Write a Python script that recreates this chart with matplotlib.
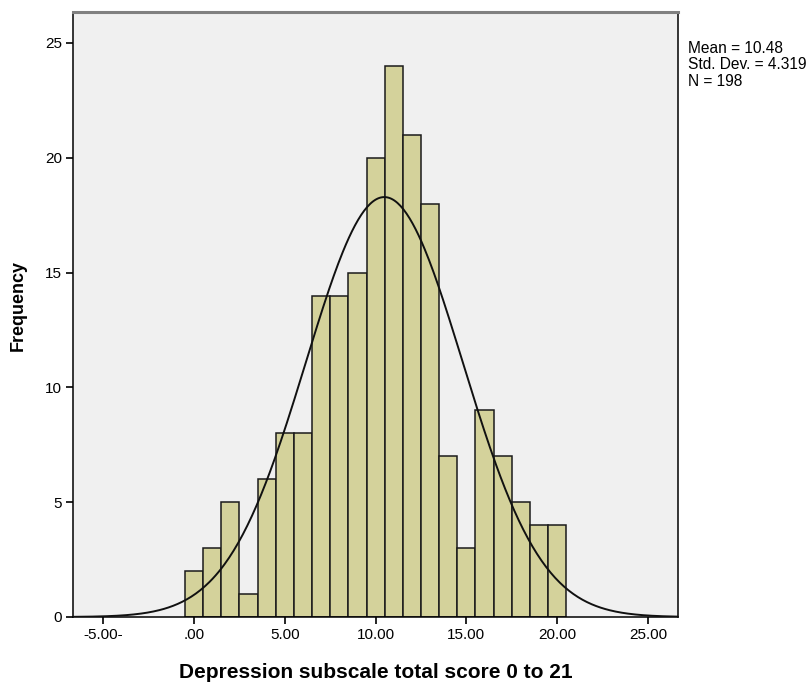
import numpy as np
import matplotlib
matplotlib.use("Agg")
import matplotlib.pyplot as plt

plt.rcParams['font.family'] = ['Liberation Sans', 'DejaVu Sans']

# histogram data (score value -> count)
scores = np.arange(0, 21)
counts = [2, 3, 5, 1, 6, 8, 8, 14, 14, 15, 20, 24, 21, 18, 7, 3, 9, 7, 5, 4, 4]
mean, sd, n = 10.48, 4.319, 198

xticks = [-5, 0, 5, 10, 15, 20, 25]
xticklabels = ["-5.00-", ".00", "5.00", "10.00", "15.00", "20.00", "25.00"]
yticks = [0, 5, 10, 15, 20, 25]

fig = plt.figure(figsize=(8.12, 6.86), dpi=100)
ax = fig.add_axes([73/812, 1-617/686, (678-73)/812, (617-12)/686])
ax.set_facecolor('#f0f0f0')

ax.bar(scores, counts, width=1.0, color='#d4d29b', edgecolor='#1a1a1a', linewidth=1.1, zorder=2)

# fitted normal curve
xs = np.linspace(-6.66, 26.65, 400)
ys = n * 1.0 / (sd * np.sqrt(2*np.pi)) * np.exp(-0.5*((xs-mean)/sd)**2)
ax.plot(xs, ys, color='#111111', lw=1.4, zorder=3)

ax.set_xlim(-6.66, 26.65)
ax.set_ylim(0, 26.35)
ax.set_xticks(xticks)
ax.set_xticklabels(xticklabels)
ax.set_yticks(yticks)
ax.tick_params(axis='both', direction='out', length=5, width=1.2, color='black',
               labelsize=11, pad=3)

for side in ['left', 'bottom', 'right']:
    ax.spines[side].set_color('black')
    ax.spines[side].set_linewidth(1.1)
ax.spines['top'].set_color('#808080')
ax.spines['top'].set_linewidth(2.2)

ax.set_xlabel("Depression subscale total score 0 to 21", fontsize=15, fontweight='bold',
              labelpad=15)
ax.set_ylabel("Frequency", fontsize=13, fontweight='bold')
ax.yaxis.set_label_coords(-0.077, 0.515)

fig.text(688/812, 1-41/686, "Mean = 10.48\nStd. Dev. = 4.319\nN = 198",
         fontsize=11.2, va='top', ha='left', linespacing=1.12)

fig.savefig("out.png", dpi=100)
